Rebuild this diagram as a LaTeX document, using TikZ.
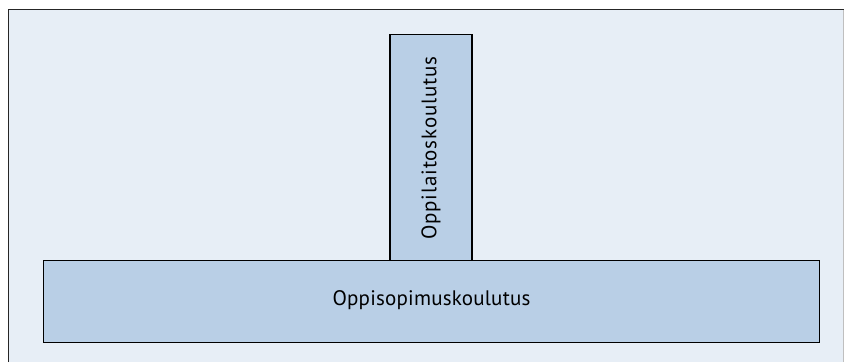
\documentclass[tikz,border=0pt]{standalone}
\usepackage{fontspec}
\setmainfont{PT Sans}
\begin{document}
\begin{tikzpicture}[x=1pt,y=-1pt,
  block/.style={draw=black, line width=1.3pt, fill=blockbg, inner sep=0pt},
  label/.style={font=\fontsize{21}{24}\selectfont, text=black}]
\definecolor{panelbg}{HTML}{E7EEF6}
\definecolor{blockbg}{HTML}{B9CFE6}
\useasboundingbox (0,0) rectangle (845,362);
\fill[white] (0,0) rectangle (845,362);
% background panel
\fill[panelbg] (8.5,9.5) rectangle (843.5,362);
\draw[line width=1.4pt, black!85] (8.5,362) -- (8.5,9.5) -- (843.5,9.5);
\draw[line width=0.6pt, black!25] (843.5,9.5) -- (843.5,362);
% blocks
\node[block, minimum width=82pt, minimum height=227pt] (school) at (431,148) {};
\node[block, minimum width=776pt, minimum height=82pt] (appr) at (431.5,301.5) {};
\node[label, rotate=90] at (school.center) {\addfontfeature{LetterSpace=4}Oppilaitoskoulutus};
\node[label] at ([yshift=1pt]appr.center) {\addfontfeature{LetterSpace=1}Oppisopimuskoulutus};
\end{tikzpicture}
\end{document}
